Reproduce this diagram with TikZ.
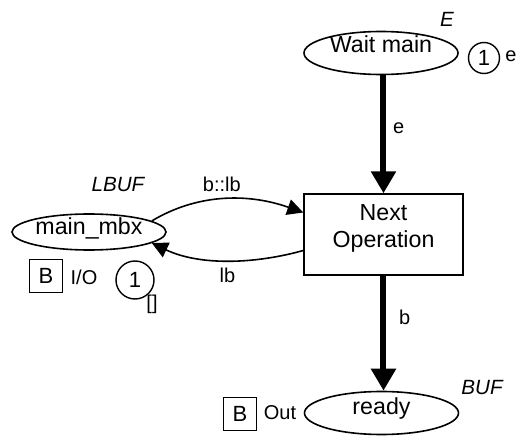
\documentclass[tikz,border=0pt]{standalone}
\usepackage{fontspec}
\setmainfont{Liberation Sans}
\usetikzlibrary{arrows.meta,shapes.geometric}

% raise text inside a node without changing its box
\newcommand{\lift}[2]{\raisebox{#1}[\height][\depth]{#2}}

\begin{document}
\begin{tikzpicture}[x=0.5pt, y=-0.5pt,
    place/.style={ellipse, draw, line width=0.8pt, inner sep=0pt,
        minimum width=77pt, minimum height=21.5pt,
        font=\fontsize{11.6}{13}\selectfont},
    trans/.style={rectangle, draw, line width=0.7pt, inner sep=0pt,
        minimum width=79.5pt, minimum height=40.5pt, align=center,
        text depth=8.5pt, font=\fontsize{11.6}{13.5}\selectfont},
    token/.style={circle, draw, line width=0.7pt, inner sep=0pt,
        minimum size=15.5pt, font=\fontsize{11}{13}\selectfont},
    portbox/.style={rectangle, draw, line width=0.7pt, inner sep=0pt,
        minimum size=16.5pt, font=\fontsize{11}{13}\selectfont},
    tag/.style={font=\fontsize{10}{12}\selectfont},
    colset/.style={font=\fontsize{10.3}{12}\selectfont\itshape},
    arc/.style={line width=0.8pt, -{Triangle[width=8pt,length=8pt]}},
    bigarc/.style={line width=3pt, -{Triangle[width=12pt,length=11pt]}}]
    \useasboundingbox (0,0) rectangle (516,439);

    % places
    \node[place] (wait) at (381,53) {\lift{4.5pt}{Wait main}};
    \node[colset] (waitcs) at (447,19) {E};
    \node[token] (waittok) at (484,58) {1};
    \node[tag] (waitmark) at (511,56) {e};

    \node[place, minimum height=18pt] (mbx) at (89,232) {\lift{2pt}{main\_mbx}};
    \node[colset] (mbxcs) at (118,185) {LBUF};
    \node[portbox] (mbxport) at (46,276) {B};
    \node[tag] (mbxio) at (84,277) {I/O};
    \node[token, minimum size=19pt] (mbxtok) at (135,280) {1};
    \node[tag] (mbxmark) at (152,304) {{[]}};

    \node[place] (ready) at (381.5,413) {\lift{2pt}{ready}};
    \node[colset] (readycs) at (482,388) {BUF};
    \node[portbox] (readyport) at (240,414) {B};
    \node[tag] (readyio) at (280,413) {Out};

    % transition
    \node[trans] (op) at (383.5,234.5) {Next\\Operation};

    % arcs
    \draw[bigarc] (op.north |- wait.south) -- node[tag, right, pos=0.45] {e} (op.north);
    \draw[bigarc] (op.south) -- node[tag, right, pos=0.36, xshift=3pt] {b} (op.south |- ready.north);
    \draw[arc] (mbx.10) .. controls (195,195) and (245,192) .. ([yshift=11pt]op.west)
        node[tag, above, pos=0.5] {b::lb};
    \draw[arc] ([yshift=-8pt]op.west) .. controls (255,264) and (200,266) .. (mbx.-10)
        node[tag, below, pos=0.5] {lb};
\end{tikzpicture}
\end{document}
